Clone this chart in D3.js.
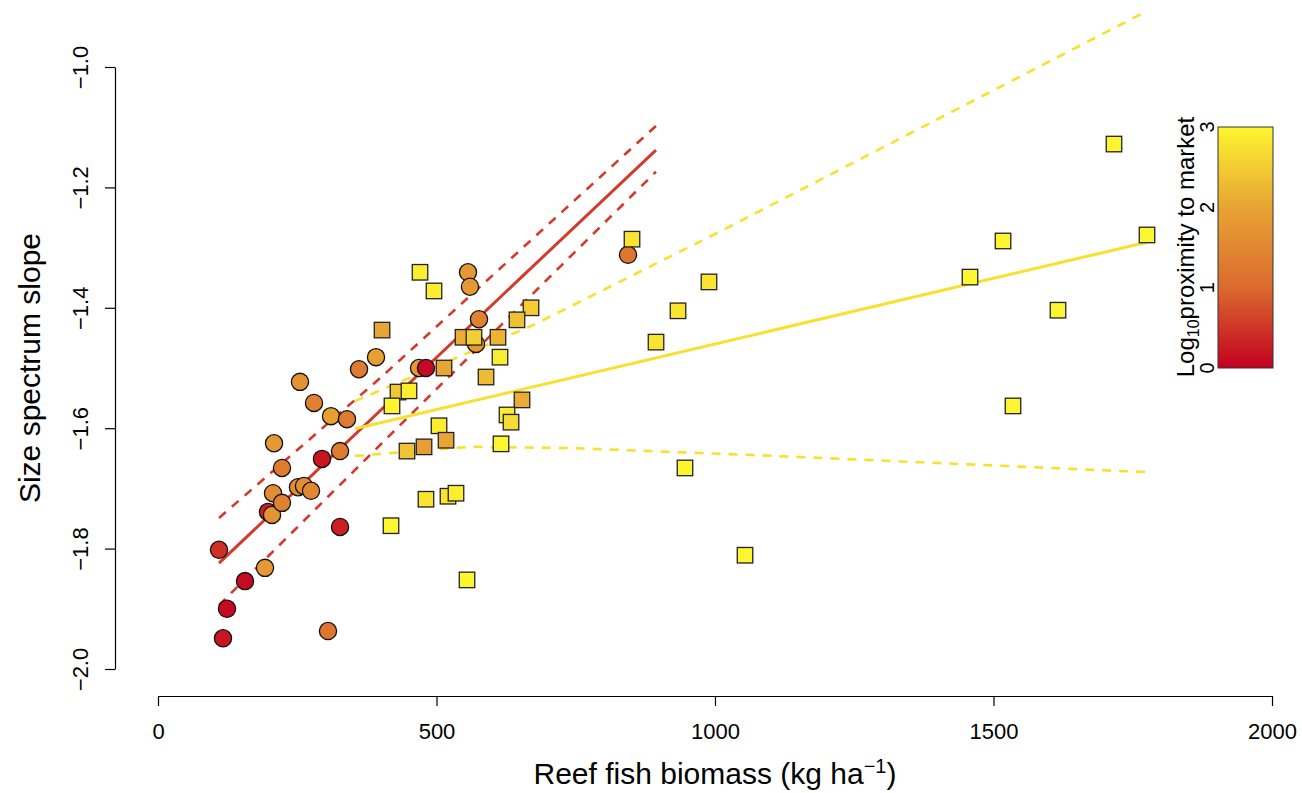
<!DOCTYPE html>
<html lang="en">
<head>
<meta charset="utf-8">
<title>Size spectrum slope vs reef fish biomass</title>
<script src="https://d3js.org/d3.v7.min.js"></script>
<style>
  html, body { margin: 0; padding: 0; background: #fff; }
  svg { display: block; font-family: "Liberation Sans", Arial, Helvetica, sans-serif; }
  .axis path, .axis line { stroke: #000; stroke-width: 1.2; }
</style>
</head>
<body>
<script>
// circles: sites of one group (biomass, slope, log10 proximity)
var circX = [109.5,123.9,116.7,156.2,192.1,197.5,204.7,206.5,208.3,222.6,222.6,251.3,262.1,274.7,294.4,326.8,326.8,305.2,254.9,280.1,310.6,339.3,360.9,391.4,468.6,481.1,556.6,560.1,576.3,570.9,843.8];
var circY = [-1.802,-1.900,-1.949,-1.854,-1.832,-1.739,-1.744,-1.708,-1.625,-1.666,-1.724,-1.698,-1.696,-1.704,-1.651,-1.638,-1.764,-1.937,-1.523,-1.558,-1.580,-1.585,-1.502,-1.482,-1.500,-1.500,-1.341,-1.365,-1.419,-1.460,-1.312];
var circP = [0.45,0.1,0.2,0.1,1.8,0.3,1.7,1.6,1.8,1.3,1.4,1.6,1.6,1.5,0.2,1.3,0.3,1.2,1.7,1.4,1.9,1.3,1.3,1.9,1.8,0.1,1.8,1.8,1.4,1.8,1.2];

// squares: the other group
var sqX = [470.4,495.5,402.2,547.6,567.3,610.4,614.0,588.9,669.7,644.5,430.9,450.6,420.1,653.5,626.6,633.8,504.5,517.1,477.6,447.0,615.8,481.1,520.6,535.0,418.3,554.8,851.0,989.2,933.6,894.1,946.1,1053.9,1716.3,1517.1,1457.8,1775.6,1615.8,1535.0,513.5];
var sqY = [-1.341,-1.372,-1.437,-1.449,-1.449,-1.449,-1.482,-1.515,-1.400,-1.420,-1.540,-1.538,-1.563,-1.553,-1.578,-1.590,-1.596,-1.620,-1.631,-1.638,-1.626,-1.718,-1.713,-1.708,-1.762,-1.852,-1.286,-1.357,-1.405,-1.457,-1.666,-1.811,-1.128,-1.289,-1.349,-1.279,-1.404,-1.563,-1.500];
var sqP = [2.9,2.9,2.0,2.1,2.5,2.2,2.9,2.3,2.5,2.35,2.45,2.9,3.0,2.1,2.9,2.7,2.9,2.0,1.9,2.4,3.0,2.8,2.8,2.9,3.0,3.0,2.8,2.8,2.8,2.8,3.0,3.0,3.0,3.0,3.0,3.0,3.0,3.0,2.0];

// fitted lines and confidence bands
var redFitX = [109.5, 894];
var redFitY = [-1.824, -1.138];
var redHiX = [109.5, 398.6, 894];
var redHiY = [-1.749, -1.517, -1.098];
var redLoX = [109.5, 404, 894];
var redLoY = [-1.894, -1.623, -1.174];

var yelFitX = [353.7, 1775.6];
var yelFitY = [-1.601, -1.291];
var yelHiX = [353.7, 673, 1014, 1775.6];
var yelHiY = [-1.555, -1.429, -1.271, -0.907];
var yelLoX = [353.7, 560, 740, 1081, 1775.6];
var yelLoY = [-1.646, -1.631, -1.633, -1.645, -1.673];

var xTicks = [0, 500, 1000, 1500, 2000];
var yTicks = [-2.0, -1.8, -1.6, -1.4, -1.2, -1.0];
var legTicks = [0, 1, 2, 3];
var legStops = [0, 1, 2, 3];
var legColors = ["#c3001f", "#db6a2e", "#e8a434", "#fdf52f"];

var W = 1302, H = 793;
var svg = d3.select("body").append("svg").attr("width", W).attr("height", H);

var x = d3.scaleLinear().domain([0, 2000]).range([158, 1272]);
var y = d3.scaleLinear().domain([-2, -1]).range([669, 67]);
var col = d3.scaleLinear().domain(legStops).range(legColors).clamp(true);

// x axis
var gx = svg.append("g").attr("class", "axis").attr("transform", "translate(0,696)")
  .call(d3.axisBottom(x).tickValues(xTicks).tickSize(10).tickSizeOuter(0).tickFormat(d3.format("d")));
gx.attr("font-size", 22).attr("font-family", null);
gx.selectAll("text").attr("y", 43).attr("dy", 0).attr("fill", "#000");

// y axis with rotated labels
var gy = svg.append("g").attr("class", "axis").attr("transform", "translate(115,0)")
  .call(d3.axisLeft(y).tickValues(yTicks).tickSize(10).tickSizeOuter(0).tickFormat(d3.format(".1f")));
gy.attr("font-size", 22).attr("font-family", null);
gy.selectAll("text").attr("x", 0).attr("dy", 0).attr("text-anchor", "middle")
  .attr("transform", "translate(-27,0) rotate(-90)").attr("fill", "#000");

// axis titles
svg.append("text").attr("transform", "translate(40,368) rotate(-90)")
  .attr("text-anchor", "middle").style("font-size", "30px").text("Size spectrum slope");

var xt = svg.append("text").attr("x", 715).attr("y", 784)
  .attr("text-anchor", "middle").style("font-size", "30px");
xt.append("tspan").text("Reef fish biomass (kg ha");
xt.append("tspan").attr("dy", -11).style("font-size", "20px").text("\u22121");
xt.append("tspan").attr("dy", 11).text(")");

// lines
function pts(xs, ys) { return xs.map(function(v, i) { return [v, ys[i]]; }); }
var line = d3.line().x(function(d) { return x(d[0]); }).y(function(d) { return y(d[1]); });

var redC = "#d43a2c", yelC = "#f8e12c";
var lines = [
  { d: pts(redHiX, redHiY), c: redC, dash: "9,8", w: 2.6 },
  { d: pts(redLoX, redLoY), c: redC, dash: "9,8", w: 2.6 },
  { d: pts(yelHiX, yelHiY), c: yelC, dash: "9,8", w: 2.6 },
  { d: pts(yelLoX, yelLoY), c: yelC, dash: "9,8", w: 2.6 },
  { d: pts(redFitX, redFitY), c: redC, dash: null, w: 3 },
  { d: pts(yelFitX, yelFitY), c: yelC, dash: null, w: 3 }
];
svg.append("g").selectAll("path").data(lines).enter().append("path")
  .attr("d", function(d) { return line(d.d); })
  .attr("fill", "none")
  .attr("stroke", function(d) { return d.c; })
  .attr("stroke-width", function(d) { return d.w; })
  .attr("stroke-dasharray", function(d) { return d.dash; });

// points
var circ = circX.map(function(v, i) { return { x: v, y: circY[i], p: circP[i] }; });
var sq = sqX.map(function(v, i) { return { x: v, y: sqY[i], p: sqP[i] }; });

svg.append("g").selectAll("circle").data(circ).enter().append("circle")
  .attr("cx", function(d) { return x(d.x); })
  .attr("cy", function(d) { return y(d.y); })
  .attr("r", 8.6)
  .attr("fill", function(d) { return col(d.p); })
  .attr("stroke", "#111").attr("stroke-width", 1.3);

var s = 15.5;
svg.append("g").selectAll("rect").data(sq).enter().append("rect")
  .attr("x", function(d) { return x(d.x) - s / 2; })
  .attr("y", function(d) { return y(d.y) - s / 2; })
  .attr("width", s).attr("height", s)
  .attr("fill", function(d) { return col(d.p); })
  .attr("stroke", "#222").attr("stroke-width", 1.3);

// colour bar legend
var ly = d3.scaleLinear().domain([0, 3]).range([368, 127]);
var grad = svg.append("defs").append("linearGradient").attr("id", "cbar")
  .attr("x1", 0).attr("y1", 1).attr("x2", 0).attr("y2", 0);
legStops.forEach(function(v, i) {
  grad.append("stop").attr("offset", v / 3).attr("stop-color", legColors[i]);
});
svg.append("rect").attr("x", 1218).attr("y", ly(3)).attr("width", 55).attr("height", ly(0) - ly(3))
  .attr("fill", "url(#cbar)").attr("stroke", "#333").attr("stroke-width", 1);

svg.append("g").selectAll("text").data(legTicks).enter().append("text")
  .attr("transform", function(d) { return "translate(1214," + ly(d) + ") rotate(-90)"; })
  .attr("text-anchor", "middle").style("font-size", "20px")
  .text(function(d) { return d; });

var lt = svg.append("text").attr("transform", "translate(1194,247) rotate(-90)")
  .attr("text-anchor", "middle").style("font-size", "24px");
lt.append("tspan").text("Log");
lt.append("tspan").attr("dy", 5).style("font-size", "16px").text("10");
lt.append("tspan").attr("dy", -5).text("proximity to market");
</script>
</body>
</html>
